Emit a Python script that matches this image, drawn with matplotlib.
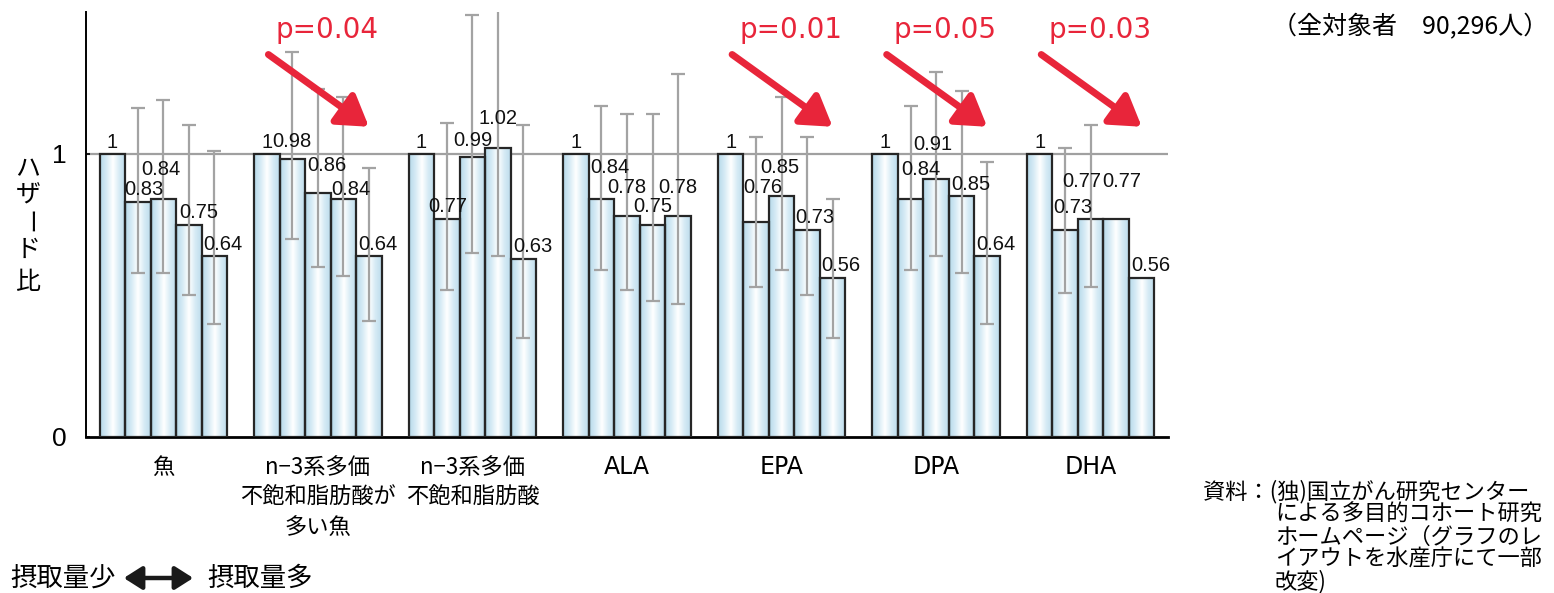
#!/usr/bin/env python3
"""
Hazard ratios by intake level (fish / n-3 PUFA) - grouped bar chart with CI
"""

import numpy as np
import matplotlib
matplotlib.use('Agg')
import matplotlib.pyplot as plt
from matplotlib import font_manager
from matplotlib.colors import LinearSegmentedColormap
from matplotlib.patches import Rectangle, FancyArrowPatch

# ---- data ----
categories = ['魚', 'n−3系多価\n不飽和脂肪酸が\n多い魚', 'n−3系多価\n不飽和脂肪酸',
              'ALA', 'EPA', 'DPA', 'DHA']

hazard = [
    [1, 0.83, 0.84, 0.75, 0.64],
    [1, 0.98, 0.86, 0.84, 0.64],
    [1, 0.77, 0.99, 1.02, 0.63],
    [1, 0.84, 0.78, 0.75, 0.78],
    [1, 0.76, 0.85, 0.73, 0.56],
    [1, 0.84, 0.91, 0.85, 0.64],
    [1, 0.73, 0.77, 0.77, 0.56],
]

ci_low = [
    [np.nan, 0.58, 0.58, 0.50, 0.40],
    [np.nan, 0.70, 0.60, 0.57, 0.41],
    [np.nan, 0.52, 0.65, 0.64, 0.35],
    [np.nan, 0.59, 0.52, 0.48, 0.47],
    [np.nan, 0.53, 0.59, 0.50, 0.35],
    [np.nan, 0.59, 0.64, 0.58, 0.40],
    [np.nan, 0.51, 0.53, np.nan, np.nan],
]

ci_high = [
    [np.nan, 1.16, 1.19, 1.10, 1.01],
    [np.nan, 1.36, 1.23, 1.20, 0.95],
    [np.nan, 1.11, 1.49, 1.60, 1.10],
    [np.nan, 1.17, 1.14, 1.14, 1.28],
    [np.nan, 1.06, 1.20, 1.06, 0.84],
    [np.nan, 1.17, 1.29, 1.22, 0.97],
    [np.nan, 1.02, 1.10, np.nan, np.nan],
]

# trend p-values (group index -> text)
p_groups = [1, 4, 5, 6]
p_labels = ['p=0.04', 'p=0.01', 'p=0.05', 'p=0.03']

# label placement (pixels) relative to bar top centre, as in the original
label_lift = [
    [6, 7, 24, 7, 6],
    [6, 12, 22, 4, 6],
    [6, 7, 11, 24, 7],
    [6, 26, 23, 12, 23],
    [6, 29, 23, 7, 7],
    [6, 24, 29, 6, 6],
    [6, 17, 32, 32, 7],
]
label_dx = [
    [0, 6, -2, 10, 9],
    [0, 0, 9, 8, 9],
    [0, 1, 0, 0, 9],
    [0, 8, 0, 0, 0],
    [0, 7, -2, 8, 8],
    [0, 10, -3, 9, 9],
    [0, 8, -9, 6, 9],
]

W, H = 1554, 593
RED = '#e8253a'
JP = ['Noto Sans CJK JP', 'DejaVu Sans']

available = {f.name for f in font_manager.fontManager.ttflist}
NUM_FONT = 'Liberation Sans Narrow' if 'Liberation Sans Narrow' in available else 'Liberation Sans'
NUM_SIZE = 17 if NUM_FONT == 'Liberation Sans Narrow' else 14.5


def fig_xy(x, y):
    """pixel position (from top-left) -> figure fraction"""
    return x / W, 1 - y / H


fig = plt.figure(figsize=(W / 100, H / 100), dpi=100)
ax = fig.add_axes([86 / W, 156 / H, (1168 - 86) / W, 425 / H])

bar_w = 0.165
n_bars = 5
grad_cmap = LinearSegmentedColormap.from_list(
    'barfill', ['#b6d9ea', '#d6ebf5', '#ffffff', '#d6ebf5', '#bddcec'])
grad_img = np.linspace(0, 1, 64).reshape(1, -1)

# reference line at 1
ax.axhline(1, color='#a0a0a0', linewidth=1.6, zorder=1)

for gi, vals in enumerate(hazard):
    for bj, v in enumerate(vals):
        x0 = gi + (bj - n_bars / 2) * bar_w
        # gradient fill clipped to the bar
        im = ax.imshow(grad_img, cmap=grad_cmap, extent=[x0, x0 + bar_w, 0, v],
                       aspect='auto', zorder=2, interpolation='bilinear')
        rect = Rectangle((x0, 0), bar_w, v, facecolor='none',
                         edgecolor='#262626', linewidth=1.6, zorder=3)
        ax.add_patch(rect)
        im.set_clip_path(rect)

        # error bar
        lo, hi = ci_low[gi][bj], ci_high[gi][bj]
        xc = x0 + bar_w / 2
        if not np.isnan(lo):
            ax.errorbar([xc], [v], yerr=[[v - lo], [hi - v]], fmt='none',
                        ecolor='#a3a3a3', elinewidth=1.6, capsize=4.7,
                        capthick=1.6, zorder=4)

        # value label
        txt = f'{v:g}'
        ax.annotate(txt, (xc, v),
                    xytext=(label_dx[gi][bj] * 0.72, label_lift[gi][bj] * 0.72),
                    textcoords='offset points', ha='center', va='baseline',
                    fontsize=NUM_SIZE, family=NUM_FONT, color='#111111', zorder=5)

# trend arrows with p-values
for gi, lab in zip(p_groups, p_labels):
    ax.annotate('', xy=(gi + 0.33, 1.095), xytext=(gi - 0.32, 1.35),
                arrowprops=dict(arrowstyle='-|>,head_length=0.6,head_width=0.38',
                                color=RED, lw=5, mutation_scale=30,
                                shrinkA=0, shrinkB=0),
                annotation_clip=False, zorder=6)
    ax.text(gi + 0.06, 1.435, lab, color=RED, fontsize=20, family='DejaVu Sans',
            ha='center', va='center', zorder=6, clip_on=False)

ax.set_xlim(-0.5, 6.5)
ax.set_ylim(0, 1.5)
ax.set_yticks([0, 1])
ax.set_yticklabels(['0', '1'], fontsize=19, family='Liberation Sans')
ax.tick_params(axis='y', direction='in', length=3, width=1.2, pad=14)
ax.set_xticks([])
for side in ('top', 'right'):
    ax.spines[side].set_visible(False)
ax.spines['left'].set_linewidth(1.4)
ax.spines['bottom'].set_linewidth(2)

# category labels
for gi, cat in enumerate(categories):
    xc = ax.transData.transform((gi, 0))[0]
    for k, line in enumerate(cat.split('\n')):
        if line.isascii():
            fam, size = 'DejaVu Sans', 17
        else:
            fam, size = JP, 16
        fig.text(xc / W, 1 - (467 + 30 * k) / H, line, ha='center', va='center',
                 fontsize=size, family=fam)

# vertical y label
for ch, yy in zip(['ハ', 'ザ', 'ー', 'ド', '比'], [169, 196, 222, 250, 282]):
    fig.text(*fig_xy(28, yy), ch, ha='center', va='center', fontsize=18,
             family=JP, rotation=-90 if ch == 'ー' else 0)

# intake direction note
fig.text(*fig_xy(10, 578), '摂取量少', ha='left', va='center', fontsize=19, family=JP)
fig.text(*fig_xy(207, 578), '摂取量多', ha='left', va='center', fontsize=19, family=JP)
fig.patches.append(FancyArrowPatch(
    fig_xy(121, 578), fig_xy(196, 578), transform=fig.transFigure,
    arrowstyle='<|-|>,head_length=0.55,head_width=0.35', mutation_scale=20,
    lw=3.2, color='#1a1a1a'))

# subject count
fig.text(*fig_xy(1548, 27), '（全対象者　90,296人）', ha='right', va='center',
         fontsize=18, family=JP)

# source
source_lines = ['資料：(独)国立がん研究センター', 'による多目的コホート研究',
                'ホームページ（グラフのレ', 'イアウトを水産庁にて一部', '改変)']
for k, line in enumerate(source_lines):
    x = 1203 if k == 0 else 1275
    fig.text(*fig_xy(x, 492 + 22.5 * k), line, ha='left', va='center',
             fontsize=16, family=JP)

plt.savefig('out.png', dpi=100)
